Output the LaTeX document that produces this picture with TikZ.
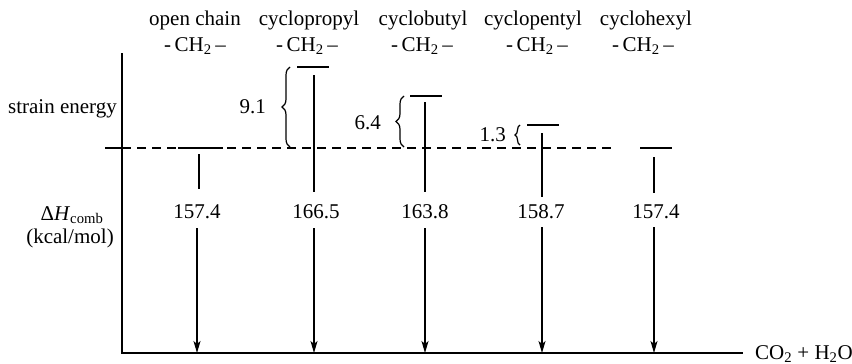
\documentclass[tikz,border=0pt]{standalone}
\usepackage{fontspec}
\setmainfont{Liberation Serif}
\usetikzlibrary{arrows.meta,decorations.pathreplacing}
\begin{document}
\begin{tikzpicture}[x=1pt,y=-1pt,
  every node/.style={font=\fontsize{21}{24}\selectfont, inner sep=0pt},
  ln/.style={line width=1.3pt},
  arr/.style={line width=1.3pt,-{Stealth[length=12pt,width=7pt,inset=3pt]}},
  lvl/.style={line width=1.3pt},
  br/.style={line width=1.2pt,decorate,decoration={brace,amplitude=8pt}},
  val/.style={anchor=center}]
\useasboundingbox (0,0) rectangle (852,364);
% axes
\coordinate (axtop) at (122,53);
\coordinate (axbot) at (122,353);
\coordinate (axend) at (743,353);
\coordinate (tickl) at (105,148);
\coordinate (ticka) at (122,148);
\coordinate (dashend) at (615,148);
\draw[ln] (axtop) -- (axbot) -- (axend);
\draw[ln] (tickl) -- (ticka);
\draw[ln,dash pattern=on 9pt off 6pt] (ticka) -- (dashend);
\node[anchor=west] (prod) at (755,354) {CO\textsubscript{2} + H\textsubscript{2}O};
% left labels
\node[anchor=east] (se) at (117,109) {strain energy};
\node (dh) at (72,215) {Δ\textit{H}\textsubscript{comb}};
\node (unit) at (70,238) {(kcal/mol)};
% top labels
\node (n1) at (195,20) {open chain};
\node (n2) at (309,20) {cyclopropyl};
\node (n3) at (423,20) {cyclobutyl};
\node (n4) at (533,20) {cyclopentyl};
\node (n5) at (646,20) {cyclohexyl};
\node (c1) at (195,46) {-\,CH\textsubscript{2}\,–};
\node (c2) at (307,46) {-\,CH\textsubscript{2}\,–};
\node (c3) at (422,46) {-\,CH\textsubscript{2}\,–};
\node (c4) at (537,46) {-\,CH\textsubscript{2}\,–};
\node (c5) at (643,46) {-\,CH\textsubscript{2}\,–};
% levels
\coordinate (l1a) at (178,148); \coordinate (l1b) at (223,148);
\coordinate (l2a) at (297,67);  \coordinate (l2b) at (329,67);
\coordinate (l3a) at (410,96);  \coordinate (l3b) at (442,96);
\coordinate (l4a) at (527,125); \coordinate (l4b) at (559,125);
\coordinate (l5a) at (640,148); \coordinate (l5b) at (672,148);
\foreach \i in {1,...,5}{\draw[lvl] (l\i a) -- (l\i b);}
% values
\node[val] (v1) at (197,212) {157.4};
\node[val] (v2) at (316,212) {166.5};
\node[val] (v3) at (425,212) {163.8};
\node[val] (v4) at (541,212) {158.7};
\node[val] (v5) at (656,212) {157.4};
% vertical line segments
\coordinate (t1) at (199,154); \coordinate (e1) at (199,189);
\coordinate (t2) at (314,75);  \coordinate (e2) at (314,192);
\coordinate (t3) at (425,102); \coordinate (e3) at (425,192);
\coordinate (t4) at (542,133); \coordinate (e4) at (542,197);
\coordinate (t5) at (654,157); \coordinate (e5) at (654,193);
\foreach \i in {1,...,5}{\draw[ln] (t\i) -- (e\i);}
% arrows
\coordinate (s1) at (197,228); \coordinate (b1) at (197,353);
\coordinate (s2) at (314,228); \coordinate (b2) at (314,353);
\coordinate (s3) at (425,228); \coordinate (b3) at (425,353);
\coordinate (s4) at (542,227); \coordinate (b4) at (542,353);
\coordinate (s5) at (654,227); \coordinate (b5) at (654,353);
\foreach \i in {1,...,5}{\draw[arr] (s\i) -- (b\i);}
% braces
\coordinate (br2a) at (290,147); \coordinate (br2b) at (290,67);
\draw[br] (br2a) -- (br2b);
\node[anchor=east] (s9) at (266,107) {9.1};
\coordinate (br3a) at (404,147); \coordinate (br3b) at (404,96);
\draw[br] (br3a) -- (br3b);
\node[anchor=east] (s6) at (381,123) {6.4};
\coordinate (br4a) at (520,145); \coordinate (br4b) at (520,125);
\draw[br,decoration={brace,amplitude=5pt}] (br4a) -- (br4b);
\node[anchor=east] (s1) at (506,135) {1.3};
\end{tikzpicture}
\end{document}
